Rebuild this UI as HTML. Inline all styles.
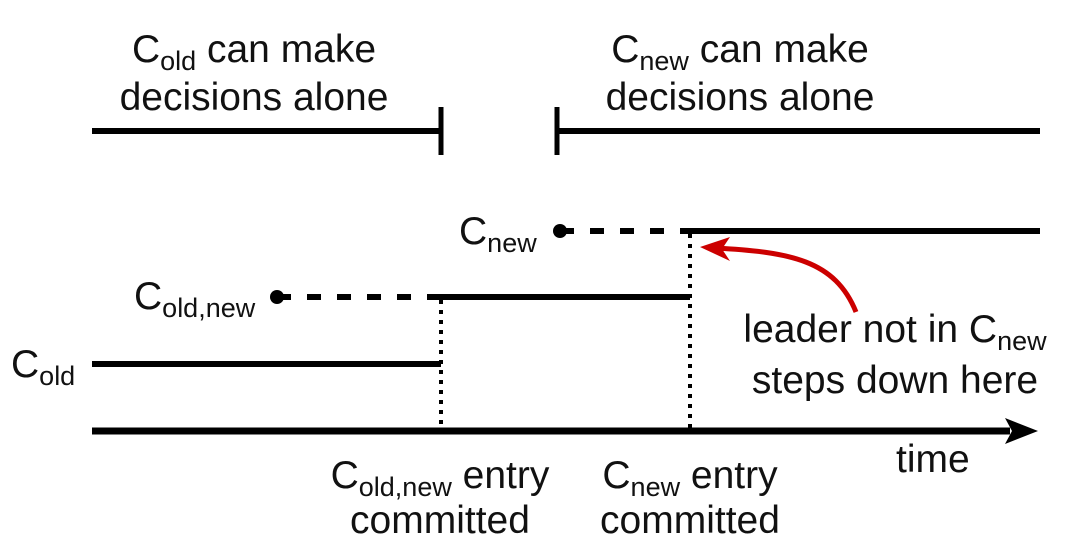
<!DOCTYPE html>
<html><head><meta charset="utf-8"><style>
html,body{margin:0;padding:0;background:#fff;width:1080px;height:545px;overflow:hidden}
svg{display:block}
text{font-family:"Liberation Sans",Arial,sans-serif;fill:#111}
</style></head><body>
<svg width="1080" height="545" viewBox="0 0 1080 545" xmlns="http://www.w3.org/2000/svg">
<g font-size="39" text-anchor="middle">
<text x="254" y="62">C<tspan font-size="27" dy="8">old</tspan><tspan dy="-8"> can make</tspan></text>
<text x="254" y="110">decisions alone</text>
<text x="740" y="62">C<tspan font-size="27" dy="8">new</tspan><tspan dy="-8"> can make</tspan></text>
<text x="740" y="110">decisions alone</text>
<text x="440" y="488">C<tspan font-size="27" dy="8">old,new</tspan><tspan dy="-8"> entry</tspan></text>
<text x="440" y="533">committed</text>
<text x="690" y="488">C<tspan font-size="27" dy="8">new</tspan><tspan dy="-8"> entry</tspan></text>
<text x="690" y="533">committed</text>
<text x="895" y="342">leader not in C<tspan font-size="27" dy="8">new</tspan></text>
<text x="895" y="393">steps down here</text>
</g>
<g font-size="39">
<text x="896" y="472">time</text>
<text x="459" y="244">C<tspan font-size="27" dy="8">new</tspan></text>
<text x="134" y="309">C<tspan font-size="27" dy="8">old,new</tspan></text>
<text x="11" y="377">C<tspan font-size="27" dy="8">old</tspan></text>
</g>
<g stroke="#000" fill="none" stroke-width="6">
<line x1="92" y1="131" x2="441" y2="131"/>
<line x1="441" y1="107" x2="441" y2="155" stroke-width="5"/>
<line x1="557" y1="131" x2="1040" y2="131"/>
<line x1="557" y1="107" x2="557" y2="155" stroke-width="5"/>
<line x1="560" y1="231" x2="690" y2="231" stroke-dasharray="14,16"/>
<line x1="688" y1="231" x2="1040" y2="231"/>
<line x1="277" y1="297" x2="430" y2="297" stroke-dasharray="14,16"/>
<line x1="430" y1="297" x2="690" y2="297"/>
<line x1="92" y1="364" x2="441" y2="364"/>
<line x1="92" y1="431" x2="1010" y2="431" stroke-width="7"/>
<line x1="441" y1="300" x2="441" y2="428" stroke-width="4" stroke-dasharray="4,6"/>
<line x1="690" y1="234" x2="690" y2="428" stroke-width="4" stroke-dasharray="4,6"/>
</g>
<polygon points="1038,431 1005,418 1012,431 1005,444" fill="#000"/>
<circle cx="560" cy="231" r="7" fill="#000"/>
<circle cx="277" cy="297" r="7" fill="#000"/>
<path d="M856,312 C835,260 790,252 715,248" stroke="#c00" stroke-width="5" fill="none"/>
<polygon points="700,247 730,237 722,249 730,261" fill="#c00"/>
</svg>
</body></html>
